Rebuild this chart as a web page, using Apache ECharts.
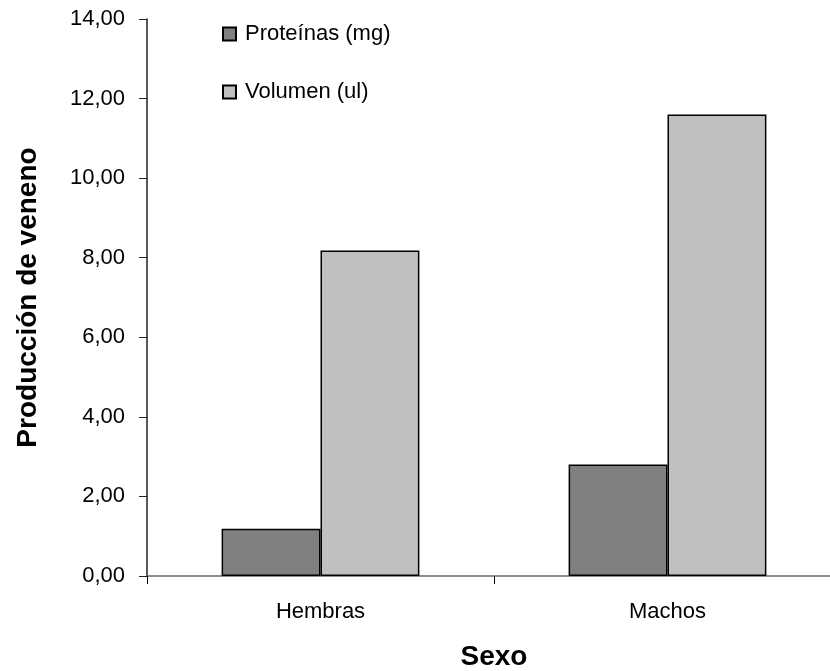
<!DOCTYPE html>
<html>
<head>
<meta charset="utf-8">
<script src="https://cdn.jsdelivr.net/npm/echarts@6/dist/echarts.min.js"></script>
<style>
  html, body { margin: 0; padding: 0; background: #fff; }
  #chart { width: 830px; height: 671px; }
</style>
</head>
<body>
<div id="chart"></div>
<script>
// Venom production by sex
const categories = ['Hembras', 'Machos'];
const seriesNames = ['Proteínas (mg)', 'Volumen (ul)'];
const proteinas = [1.19, 2.80];
const volumen = [8.18, 11.60];

const FONT = '"Liberation Sans", Arial, sans-serif';
const fmt = v => v.toFixed(2).replace('.', ',');

const chart = echarts.init(document.getElementById('chart'), null, { renderer: 'canvas' });

chart.setOption({
  animation: false,
  backgroundColor: '#ffffff',
  textStyle: { fontFamily: FONT, color: '#000' },
  // plot area runs slightly past the right edge of the canvas
  grid: { left: 147, width: 694, top: 19, bottom: 95, containLabel: false, outerBoundsMode: 'none' },
  legend: {
    orient: 'vertical',
    left: 222,
    top: 23,
    padding: 0,
    itemWidth: 13,
    itemHeight: 13,
    itemGap: 36,
    icon: 'rect',
    textStyle: { fontFamily: FONT, fontSize: 22, color: '#000', padding: [0, 0, 0, 4] },
    data: seriesNames
  },
  xAxis: {
    type: 'category',
    data: categories,
    boundaryGap: true,
    name: 'Sexo',
    nameLocation: 'middle',
    nameGap: 67,
    nameTextStyle: { fontFamily: FONT, fontSize: 28, fontWeight: 'bold', color: '#000' },
    axisLine: { show: true, lineStyle: { color: '#6a6a6a', width: 1.5 } },
    axisTick: { show: true, alignWithLabel: false, length: 8, inside: false, lineStyle: { color: '#000', width: 1 } },
    axisLabel: { fontFamily: FONT, fontSize: 22, color: '#000', margin: 25 },
    splitLine: { show: false }
  },
  yAxis: {
    type: 'value',
    min: 0,
    max: 14,
    interval: 2,
    name: 'Producción de veneno',
    nameLocation: 'middle',
    nameGap: 105,
    nameTextStyle: { fontFamily: FONT, fontSize: 28, fontWeight: 'bold', color: '#000' },
    axisLine: { show: true, lineStyle: { color: '#222', width: 1.5 } },
    axisTick: { show: true, length: 8, inside: false, lineStyle: { color: '#222', width: 1 } },
    axisLabel: { fontFamily: FONT, fontSize: 22, color: '#000', margin: 22, formatter: fmt },
    splitLine: { show: false }
  },
  series: [
    {
      name: seriesNames[0],
      type: 'bar',
      data: proteinas,
      barGap: '0%',
      barCategoryGap: '43%',
      itemStyle: { color: '#808080', borderColor: '#000', borderWidth: 1.5 }
    },
    {
      name: seriesNames[1],
      type: 'bar',
      data: volumen,
      barGap: '0%',
      barCategoryGap: '43%',
      itemStyle: { color: '#c0c0c0', borderColor: '#000', borderWidth: 1.5 }
    }
  ]
});
</script>
</body>
</html>
